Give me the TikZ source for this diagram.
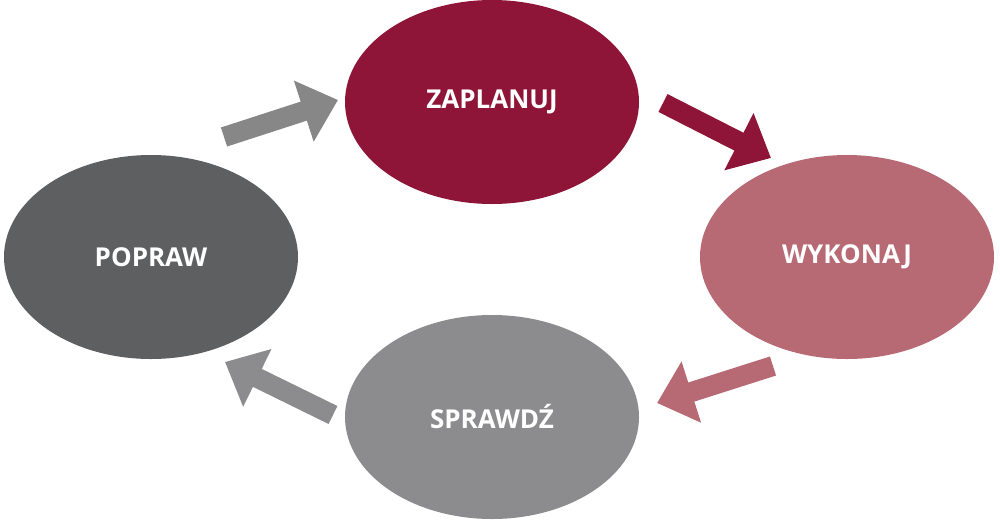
\documentclass[tikz,border=0pt]{standalone}
\usepackage{fontspec}
\setmainfont{Open Sans}
\usetikzlibrary{arrows.meta,shapes.geometric}
\definecolor{cMaroon}{HTML}{8E1537}
\definecolor{cRose}{HTML}{B86A74}
\definecolor{cLightGray}{HTML}{8C8C8E}
\definecolor{cDarkGray}{HTML}{5E5F61}
\definecolor{cArrowGray}{HTML}{878787}
\tikzset{
  phase/.style={ellipse, minimum width=294pt, minimum height=204pt, inner sep=0pt,
    text=white, font=\fontsize{26}{30}\selectfont\bfseries},
  blockarrow/.style={line width=20pt, -{Triangle[length=36pt,width=62pt]}},
}
\begin{document}
\begin{tikzpicture}[x=1pt,y=-1pt]
\useasboundingbox (0,0) rectangle (1000,520);
\node[phase, fill=cMaroon] (zaplanuj) at (492,102) {ZAPLANUJ};
\node[phase, fill=cRose] (wykonaj) at (847,257) {WYKONAJ};
\node[phase, fill=cLightGray] (sprawdz) at (492,417) {SPRAWDŹ};
\node[phase, fill=cDarkGray] (popraw) at (151,257) {POPRAW};
\coordinate (a1s) at (224,137);
\coordinate (a1e) at (338,100);
\coordinate (a2s) at (663,103);
\coordinate (a2e) at (771,158);
\coordinate (a3s) at (773,366);
\coordinate (a3e) at (657,403);
\coordinate (a4s) at (333,415);
\coordinate (a4e) at (225,362);
\draw[blockarrow, cArrowGray] (a1s) -- (a1e);
\draw[blockarrow, cMaroon] (a2s) -- (a2e);
\draw[blockarrow, cRose] (a3s) -- (a3e);
\draw[blockarrow, cLightGray] (a4s) -- (a4e);
\end{tikzpicture}
\end{document}
